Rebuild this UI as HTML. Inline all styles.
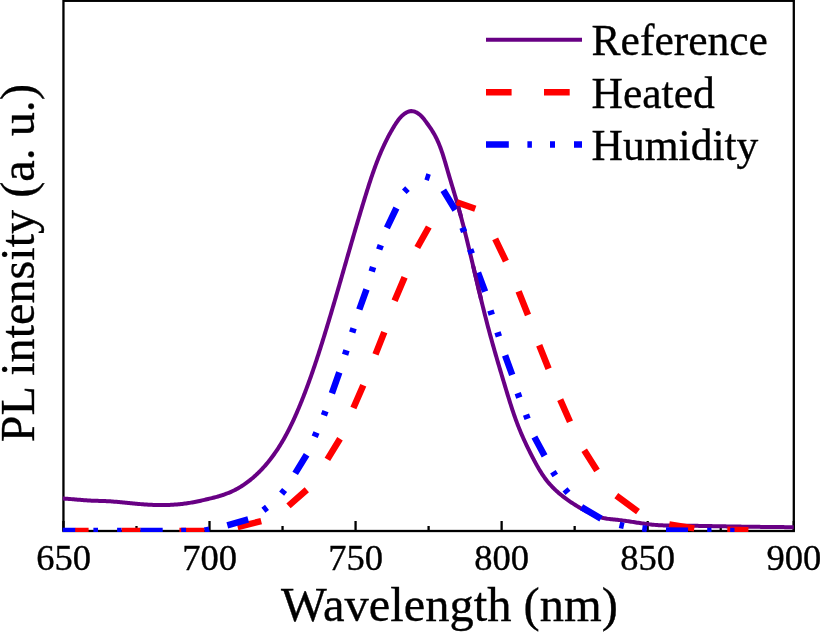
<!DOCTYPE html>
<html><head><meta charset="utf-8"><style>
html,body{margin:0;padding:0;background:#fff;width:820px;height:632px;overflow:hidden}
svg{display:block;will-change:transform}
text{font-family:"Liberation Serif",serif;fill:#000;stroke:#000;stroke-width:0.35px}
.tl{font-size:36.5px}
.lg{font-size:43.5px}
</style></head><body>
<svg width="820" height="632" viewBox="0 0 820 632">
<defs><clipPath id="c"><rect x="62.7" y="0" width="732.2" height="531.9"/></clipPath></defs>
<rect x="63.45" y="0.8" width="730.35" height="530.2" fill="none" stroke="#000" stroke-width="2.3"/>
<g stroke="#000" stroke-width="2.3"><line x1="63.45" y1="531" x2="63.45" y2="521" /><line x1="136.48" y1="531" x2="136.48" y2="526" /><line x1="209.51" y1="531" x2="209.51" y2="521" /><line x1="282.54" y1="531" x2="282.54" y2="526" /><line x1="355.57" y1="531" x2="355.57" y2="521" /><line x1="428.60" y1="531" x2="428.60" y2="526" /><line x1="501.63" y1="531" x2="501.63" y2="521" /><line x1="574.66" y1="531" x2="574.66" y2="526" /><line x1="647.69" y1="531" x2="647.69" y2="521" /><line x1="720.72" y1="531" x2="720.72" y2="526" /><line x1="793.75" y1="531" x2="793.75" y2="521" /></g>
<g clip-path="url(#c)" fill="none" stroke-linejoin="round">
<path d="M62.50,498.50 63.76,498.58 65.02,498.66 66.28,498.75 67.54,498.84 68.80,498.93 70.06,499.03 71.32,499.13 72.57,499.24 73.83,499.34 75.09,499.44 76.35,499.55 77.61,499.65 78.87,499.75 80.13,499.86 81.39,499.96 82.65,500.05 83.91,500.15 85.17,500.24 86.43,500.33 87.69,500.41 88.96,500.49 90.22,500.56 91.48,500.63 92.74,500.69 94.00,500.74 95.26,500.79 96.52,500.83 97.78,500.86 99.04,500.89 100.30,500.93 101.56,500.96 102.82,501.00 104.09,501.04 105.35,501.08 106.61,501.14 107.87,501.20 109.12,501.28 110.38,501.36 111.64,501.44 112.90,501.54 114.16,501.64 115.42,501.74 116.68,501.85 117.93,501.97 119.19,502.08 120.45,502.21 121.71,502.33 122.96,502.45 124.22,502.58 125.48,502.71 126.74,502.84 127.99,502.96 129.25,503.09 130.51,503.21 131.77,503.34 133.03,503.46 134.28,503.58 135.54,503.69 136.80,503.80 138.06,503.91 139.32,504.02 140.58,504.12 141.84,504.22 143.10,504.32 144.36,504.41 145.62,504.50 146.88,504.58 148.14,504.65 149.40,504.72 150.66,504.79 151.92,504.85 153.18,504.90 154.44,504.95 155.70,504.98 156.96,505.02 158.22,505.04 159.49,505.06 160.75,505.07 162.01,505.07 163.28,505.06 164.54,505.04 165.80,505.02 167.07,504.99 168.33,504.95 169.59,504.89 170.86,504.83 172.12,504.77 173.38,504.69 174.64,504.60 175.90,504.51 177.16,504.40 178.42,504.29 179.68,504.17 180.94,504.03 182.19,503.89 183.45,503.74 184.70,503.58 185.95,503.41 187.21,503.23 188.45,503.05 189.70,502.85 190.95,502.64 192.19,502.42 193.43,502.20 194.67,501.96 195.91,501.72 197.15,501.47 198.38,501.21 199.62,500.95 200.85,500.68 202.08,500.41 203.31,500.13 204.54,499.85 205.77,499.56 207.00,499.27 208.23,498.98 209.46,498.68 210.68,498.38 211.91,498.08 213.13,497.78 214.36,497.46 215.58,497.14 216.80,496.82 218.01,496.48 219.22,496.12 220.43,495.76 221.64,495.38 222.84,494.99 224.03,494.58 225.22,494.16 226.41,493.72 227.59,493.26 228.76,492.79 229.92,492.31 231.08,491.80 232.23,491.28 233.37,490.74 234.50,490.19 235.63,489.61 236.74,489.02 237.85,488.41 238.94,487.78 240.03,487.14 241.11,486.48 242.18,485.80 243.24,485.11 244.29,484.40 245.33,483.68 246.36,482.94 247.38,482.19 248.39,481.42 249.40,480.65 250.39,479.86 251.37,479.05 252.35,478.24 253.31,477.41 254.27,476.58 255.21,475.73 256.15,474.87 257.07,474.00 257.99,473.12 258.89,472.24 259.79,471.34 260.68,470.44 261.55,469.52 262.42,468.60 263.27,467.68 264.12,466.74 264.96,465.80 265.79,464.85 266.60,463.90 267.41,462.93 268.21,461.97 269.00,460.99 269.78,460.01 270.56,459.02 271.32,458.02 272.08,457.02 272.82,456.01 273.56,455.00 274.29,453.98 275.02,452.95 275.73,451.92 276.44,450.88 277.14,449.84 277.83,448.79 278.51,447.74 279.19,446.68 279.86,445.62 280.52,444.55 281.17,443.48 281.82,442.40 282.46,441.32 283.10,440.23 283.72,439.14 284.35,438.04 284.96,436.94 285.57,435.84 286.17,434.73 286.77,433.62 287.36,432.51 287.94,431.39 288.52,430.27 289.10,429.14 289.66,428.01 290.23,426.88 290.78,425.74 291.34,424.61 291.88,423.46 292.43,422.32 292.96,421.17 293.50,420.03 294.02,418.87 294.55,417.72 295.07,416.57 295.58,415.41 296.10,414.25 296.60,413.09 297.11,411.92 297.61,410.76 298.10,409.59 298.60,408.42 299.09,407.25 299.57,406.08 300.05,404.91 300.53,403.74 301.01,402.57 301.49,401.39 301.96,400.22 302.43,399.04 302.89,397.86 303.36,396.69 303.82,395.51 304.27,394.33 304.73,393.15 305.18,391.97 305.63,390.79 306.08,389.61 306.52,388.42 306.97,387.24 307.41,386.06 307.85,384.87 308.28,383.68 308.71,382.50 309.15,381.31 309.57,380.12 310.00,378.93 310.43,377.75 310.85,376.56 311.27,375.37 311.69,374.18 312.10,372.98 312.52,371.79 312.93,370.60 313.34,369.41 313.75,368.21 314.16,367.02 314.56,365.82 314.97,364.63 315.37,363.43 315.77,362.23 316.17,361.04 316.56,359.84 316.96,358.64 317.35,357.44 317.75,356.24 318.14,355.05 318.53,353.85 318.91,352.65 319.30,351.44 319.69,350.24 320.07,349.04 320.45,347.84 320.84,346.64 321.22,345.44 321.60,344.23 321.98,343.03 322.35,341.83 322.73,340.62 323.11,339.42 323.48,338.21 323.86,337.01 324.23,335.80 324.60,334.60 324.97,333.39 325.34,332.19 325.71,330.98 326.08,329.77 326.45,328.57 326.82,327.36 327.19,326.15 327.55,324.94 327.92,323.74 328.28,322.53 328.65,321.32 329.01,320.11 329.37,318.90 329.74,317.69 330.10,316.48 330.46,315.27 330.82,314.07 331.18,312.86 331.54,311.65 331.90,310.43 332.25,309.22 332.61,308.01 332.97,306.80 333.33,305.59 333.68,304.38 334.04,303.17 334.39,301.96 334.75,300.75 335.10,299.53 335.46,298.32 335.81,297.11 336.16,295.90 336.52,294.69 336.87,293.47 337.22,292.26 337.57,291.05 337.92,289.84 338.28,288.62 338.63,287.41 338.98,286.20 339.33,284.98 339.68,283.77 340.03,282.56 340.38,281.34 340.73,280.13 341.08,278.92 341.43,277.70 341.78,276.49 342.13,275.27 342.48,274.06 342.82,272.85 343.17,271.63 343.52,270.42 343.87,269.21 344.22,267.99 344.57,266.78 344.92,265.56 345.27,264.35 345.62,263.13 345.96,261.92 346.31,260.71 346.66,259.49 347.01,258.28 347.36,257.06 347.71,255.85 348.06,254.64 348.41,253.42 348.76,252.21 349.11,250.99 349.46,249.78 349.81,248.57 350.16,247.35 350.51,246.14 350.86,244.92 351.21,243.71 351.56,242.50 351.92,241.28 352.27,240.07 352.62,238.86 352.97,237.64 353.33,236.43 353.68,235.22 354.03,234.00 354.39,232.79 354.74,231.58 355.10,230.37 355.45,229.15 355.81,227.94 356.17,226.73 356.52,225.52 356.88,224.31 357.24,223.09 357.60,221.88 357.96,220.67 358.32,219.46 358.68,218.25 359.04,217.04 359.40,215.83 359.76,214.61 360.12,213.40 360.49,212.19 360.85,210.98 361.22,209.77 361.58,208.56 361.95,207.35 362.31,206.15 362.68,204.94 363.05,203.73 363.42,202.52 363.79,201.31 364.16,200.10 364.53,198.89 364.90,197.69 365.27,196.48 365.65,195.27 366.02,194.06 366.40,192.86 366.78,191.65 367.15,190.45 367.53,189.24 367.92,188.04 368.30,186.83 368.68,185.63 369.07,184.43 369.46,183.23 369.85,182.02 370.24,180.82 370.64,179.63 371.04,178.43 371.44,177.23 371.85,176.04 372.25,174.84 372.66,173.65 373.08,172.46 373.50,171.27 373.92,170.08 374.34,168.89 374.77,167.71 375.20,166.52 375.64,165.34 376.08,164.16 376.53,162.98 376.98,161.81 377.43,160.63 377.89,159.46 378.36,158.29 378.83,157.12 379.30,155.95 379.78,154.79 380.27,153.63 380.76,152.47 381.25,151.31 381.76,150.16 382.27,149.01 382.78,147.86 383.30,146.71 383.83,145.57 384.36,144.43 384.90,143.29 385.45,142.16 386.00,141.03 386.57,139.90 387.13,138.77 387.71,137.65 388.29,136.53 388.88,135.42 389.48,134.30 390.09,133.20 390.70,132.09 391.33,130.99 391.96,129.89 392.60,128.80 393.24,127.71 393.90,126.62 394.57,125.54 395.24,124.46 395.93,123.39 396.63,122.33 397.36,121.28 398.10,120.26 398.88,119.26 399.68,118.28 400.52,117.33 401.40,116.42 402.32,115.55 403.28,114.71 404.30,113.92 405.36,113.19 406.47,112.52 407.61,111.96 408.79,111.52 410.00,111.23 411.23,111.11 412.47,111.17 413.71,111.40 414.92,111.77 416.10,112.27 417.22,112.86 418.28,113.53 419.29,114.27 420.25,115.09 421.17,115.96 422.05,116.88 422.89,117.84 423.71,118.83 424.51,119.84 425.29,120.88 426.05,121.91 426.81,122.95 427.57,123.99 428.31,125.02 429.05,126.06 429.77,127.10 430.48,128.14 431.18,129.19 431.87,130.25 432.54,131.30 433.19,132.37 433.83,133.45 434.45,134.53 435.05,135.63 435.63,136.73 436.19,137.85 436.74,138.97 437.28,140.10 437.79,141.24 438.30,142.38 438.79,143.54 439.27,144.70 439.73,145.87 440.18,147.04 440.63,148.22 441.06,149.40 441.48,150.59 441.89,151.79 442.29,152.98 442.69,154.19 443.08,155.39 443.46,156.60 443.84,157.81 444.21,159.03 444.57,160.25 444.94,161.46 445.30,162.68 445.65,163.90 446.01,165.13 446.36,166.35 446.71,167.57 447.06,168.79 447.41,170.01 447.77,171.23 448.12,172.45 448.48,173.66 448.84,174.88 449.20,176.09 449.56,177.31 449.92,178.52 450.28,179.73 450.64,180.94 451.01,182.15 451.37,183.36 451.73,184.57 452.10,185.78 452.46,186.98 452.82,188.19 453.18,189.40 453.55,190.61 453.91,191.81 454.27,193.02 454.63,194.23 454.98,195.44 455.34,196.64 455.69,197.85 456.05,199.06 456.40,200.27 456.75,201.48 457.10,202.69 457.44,203.90 457.79,205.12 458.13,206.33 458.47,207.54 458.81,208.76 459.14,209.97 459.48,211.19 459.81,212.41 460.14,213.62 460.47,214.84 460.80,216.06 461.12,217.28 461.45,218.50 461.77,219.72 462.09,220.94 462.41,222.16 462.73,223.38 463.05,224.60 463.36,225.83 463.68,227.05 463.99,228.27 464.30,229.50 464.61,230.72 464.92,231.95 465.23,233.17 465.53,234.40 465.84,235.62 466.14,236.85 466.45,238.08 466.75,239.30 467.05,240.53 467.35,241.76 467.65,242.99 467.95,244.21 468.25,245.44 468.55,246.67 468.84,247.90 469.14,249.13 469.44,250.36 469.73,251.58 470.02,252.81 470.32,254.04 470.61,255.27 470.90,256.50 471.20,257.73 471.49,258.96 471.78,260.19 472.07,261.42 472.36,262.65 472.65,263.88 472.94,265.11 473.23,266.34 473.52,267.56 473.81,268.79 474.10,270.02 474.39,271.25 474.68,272.48 474.97,273.71 475.26,274.94 475.55,276.17 475.84,277.40 476.13,278.63 476.42,279.85 476.71,281.08 477.00,282.31 477.30,283.54 477.59,284.77 477.88,286.00 478.17,287.22 478.46,288.45 478.75,289.68 479.05,290.91 479.34,292.13 479.64,293.36 479.93,294.59 480.23,295.81 480.52,297.04 480.82,298.27 481.12,299.49 481.41,300.72 481.71,301.94 482.01,303.17 482.31,304.40 482.61,305.62 482.91,306.85 483.22,308.07 483.52,309.29 483.83,310.52 484.13,311.74 484.44,312.96 484.75,314.19 485.05,315.41 485.36,316.63 485.68,317.85 485.99,319.08 486.30,320.30 486.62,321.52 486.93,322.74 487.25,323.96 487.57,325.18 487.89,326.40 488.21,327.62 488.53,328.84 488.86,330.06 489.18,331.28 489.51,332.49 489.84,333.71 490.17,334.93 490.50,336.14 490.84,337.36 491.17,338.58 491.51,339.79 491.84,341.01 492.18,342.22 492.52,343.44 492.86,344.65 493.20,345.87 493.54,347.08 493.89,348.30 494.23,349.51 494.58,350.72 494.93,351.94 495.28,353.15 495.62,354.36 495.97,355.58 496.33,356.79 496.68,358.00 497.03,359.21 497.38,360.43 497.74,361.64 498.09,362.85 498.45,364.06 498.81,365.27 499.16,366.48 499.52,367.70 499.88,368.91 500.24,370.12 500.60,371.33 500.96,372.54 501.32,373.75 501.68,374.96 502.04,376.17 502.41,377.39 502.77,378.60 503.13,379.81 503.50,381.02 503.86,382.23 504.22,383.44 504.59,384.65 504.95,385.87 505.32,387.08 505.68,388.29 506.05,389.50 506.42,390.71 506.78,391.92 507.15,393.13 507.52,394.35 507.89,395.56 508.26,396.77 508.63,397.98 509.01,399.19 509.38,400.39 509.76,401.60 510.14,402.81 510.52,404.01 510.91,405.22 511.29,406.42 511.68,407.62 512.08,408.82 512.47,410.02 512.87,411.22 513.27,412.42 513.68,413.61 514.09,414.81 514.51,416.00 514.92,417.19 515.35,418.37 515.77,419.56 516.21,420.74 516.64,421.92 517.09,423.10 517.53,424.27 517.98,425.45 518.44,426.62 518.91,427.79 519.38,428.95 519.85,430.11 520.33,431.27 520.81,432.43 521.31,433.59 521.80,434.74 522.30,435.89 522.81,437.04 523.32,438.19 523.83,439.33 524.35,440.48 524.88,441.62 525.41,442.76 525.94,443.90 526.48,445.04 527.02,446.18 527.57,447.31 528.12,448.45 528.67,449.58 529.23,450.72 529.79,451.85 530.36,452.98 530.93,454.11 531.51,455.24 532.08,456.37 532.66,457.50 533.25,458.63 533.84,459.76 534.43,460.89 535.03,462.01 535.63,463.13 536.24,464.25 536.86,465.37 537.49,466.47 538.12,467.58 538.76,468.68 539.41,469.77 540.07,470.86 540.74,471.93 541.42,473.00 542.11,474.07 542.81,475.12 543.52,476.16 544.24,477.20 544.98,478.22 545.73,479.23 546.49,480.23 547.27,481.22 548.07,482.19 548.87,483.15 549.70,484.10 550.53,485.03 551.39,485.96 552.25,486.86 553.13,487.76 554.02,488.64 554.92,489.52 555.84,490.38 556.77,491.23 557.71,492.06 558.66,492.89 559.62,493.71 560.58,494.51 561.56,495.31 562.55,496.09 563.55,496.87 564.55,497.63 565.56,498.39 566.58,499.14 567.61,499.87 568.64,500.60 569.68,501.33 570.72,502.04 571.77,502.74 572.83,503.44 573.89,504.13 574.96,504.81 576.03,505.48 577.11,506.14 578.19,506.79 579.28,507.43 580.37,508.07 581.47,508.69 582.58,509.31 583.69,509.92 584.80,510.52 585.92,511.11 587.05,511.69 588.17,512.26 589.31,512.82 590.45,513.36 591.59,513.90 592.74,514.41 593.90,514.91 595.07,515.39 596.24,515.84 597.42,516.27 598.61,516.68 599.80,517.05 601.01,517.40 602.22,517.72 603.45,518.00 604.68,518.25 605.92,518.48 607.17,518.69 608.42,518.87 609.68,519.04 610.94,519.19 612.21,519.33 613.47,519.47 614.74,519.60 616.01,519.72 617.27,519.85 618.54,519.99 619.80,520.13 621.05,520.28 622.31,520.44 623.56,520.61 624.81,520.78 626.06,520.95 627.31,521.13 628.55,521.32 629.80,521.50 631.04,521.69 632.29,521.88 633.54,522.07 634.78,522.27 636.03,522.46 637.28,522.65 638.53,522.84 639.78,523.03 641.03,523.21 642.28,523.39 643.53,523.57 644.78,523.74 646.04,523.91 647.29,524.07 648.55,524.22 649.80,524.37 651.06,524.51 652.31,524.64 653.57,524.77 654.82,524.88 656.08,524.99 657.34,525.08 658.60,525.16 659.86,525.24 661.12,525.30 662.38,525.36 663.64,525.41 664.90,525.45 666.16,525.49 667.42,525.52 668.68,525.54 669.94,525.56 671.20,525.58 672.46,525.59 673.73,525.61 674.99,525.62 676.25,525.63 677.51,525.63 678.78,525.64 680.04,525.65 681.30,525.66 682.56,525.67 683.83,525.69 685.09,525.70 686.35,525.71 687.62,525.73 688.88,525.75 690.14,525.76 691.40,525.78 692.67,525.80 693.93,525.82 695.19,525.83 696.46,525.85 697.72,525.87 698.98,525.89 700.25,525.92 701.51,525.94 702.77,525.96 704.03,525.98 705.30,526.00 706.56,526.03 707.82,526.05 709.09,526.07 710.35,526.10 711.61,526.12 712.88,526.14 714.14,526.17 715.40,526.19 716.66,526.21 717.93,526.24 719.19,526.26 720.45,526.28 721.72,526.30 722.98,526.33 724.24,526.35 725.51,526.37 726.77,526.39 728.03,526.41 729.29,526.43 730.56,526.45 731.82,526.47 733.08,526.50 734.35,526.52 735.61,526.53 736.87,526.55 738.13,526.57 739.40,526.59 740.66,526.61 741.92,526.63 743.18,526.65 744.45,526.67 745.71,526.68 746.97,526.70 748.24,526.72 749.50,526.74 750.76,526.75 752.02,526.77 753.29,526.79 754.55,526.80 755.81,526.82 757.07,526.84 758.34,526.85 759.60,526.87 760.86,526.88 762.13,526.90 763.39,526.91 764.65,526.93 765.91,526.94 767.18,526.96 768.44,526.97 769.70,526.98 770.97,527.00 772.23,527.01 773.49,527.02 774.75,527.04 776.02,527.05 777.28,527.06 778.54,527.08 779.81,527.09 781.07,527.10 782.33,527.11 783.59,527.12 784.86,527.14 786.12,527.15 787.38,527.16 788.65,527.17 789.91,527.18 791.17,527.19 792.44,527.20 793.70,527.21" stroke="#680084" stroke-width="4" stroke-linecap="butt"/>
<path d="M75.0,531.0L88.6,531.0 M121.6,531.0L140.6,531.0 M179.4,531.0L204.6,531.0 M237.6,527.0L261.2,521.2 M288.5,505.9L306.8,489.8 M327.4,459.4L340.0,438.8 M353.4,408.0L363.3,385.2 M375.5,354.4L384.3,332.1 M394.6,300.8L404.6,277.3 M417.3,247.5L428.8,227.0 M456.7,202.2L475.3,208.8 M495.2,238.8L505.9,261.2 M518.6,291.4L528.0,315.0 M539.2,345.3L548.6,368.8 M560.2,399.6L570.0,421.8 M584.2,450.2L597.0,470.6 M616.3,495.6L638.0,511.7 M669.3,524.5L694.3,528.4 M727.3,529.7L748.4,530.2" stroke="#ff0000" stroke-width="6.5" stroke-linecap="butt"/>
<path d="M52.9,531.0L75.2,531.0 M93.4,531.0L98.0,531.0 M117.1,531.0L121.5,531.0 M140.4,531.0L162.7,531.0 M181.2,531.0L186.1,531.0 M204.6,530.6L209.3,529.6 M227.3,525.3L248.2,519.4 M263.4,510.2L267.0,507.4 M281.6,493.6L284.6,490.0 M295.2,473.4L306.6,454.8 M314.7,436.7L316.5,432.5 M323.9,415.3L325.5,411.1 M331.9,393.3L339.3,372.4 M345.1,354.7L346.5,350.3 M352.2,332.6L353.6,328.2 M359.3,309.5L366.5,289.3 M371.7,271.4L373.1,267.0 M379.2,249.5L380.8,245.1 M386.9,227.8L396.4,208.0 M404.3,191.8L407.5,188.6 M425.4,176.4L429.8,177.8 M443.3,190.2L455.3,210.0 M462.5,227.7L464.1,231.9 M470.2,249.3L471.8,253.7 M478.0,272.7L485.1,291.7 M490.4,310.4L491.8,314.8 M497.5,332.2L498.9,336.6 M505.1,355.3L512.2,374.8 M517.7,393.2L519.3,397.6 M526.0,414.7L527.6,418.9 M534.4,437.0L544.6,455.9 M552.9,471.8L555.3,475.6 M565.0,489.3L568.0,492.9 M581.5,507.1L601.0,518.6 M619.5,524.9L623.9,525.9 M642.3,528.3L646.9,528.9 M666.0,530.6L688.0,530.8 M707.2,531.0L711.5,531.0 M730.2,531.0L734.5,531.0" stroke="#0000ff" stroke-width="6.5" stroke-linecap="butt"/>
<path d="M458.13,206.33 458.47,207.54 458.81,208.76 459.14,209.97 459.48,211.19 459.81,212.41 460.14,213.62 460.47,214.84 460.80,216.06 461.12,217.28 M472.94,265.11 473.23,266.34 473.52,267.56 473.81,268.79 474.10,270.02 474.39,271.25 474.68,272.48 474.97,273.71 475.26,274.94 475.55,276.17 475.84,277.40 476.13,278.63 476.42,279.85 476.71,281.08 477.00,282.31 477.30,283.54 477.59,284.77 477.88,286.00 478.17,287.22 478.46,288.45 478.75,289.68 479.05,290.91 479.34,292.13 479.64,293.36 479.93,294.59 480.23,295.81 480.52,297.04 480.82,298.27 481.12,299.49" stroke="#680084" stroke-width="4" stroke-linecap="butt"/>
</g>
<text x="63.5" y="570" text-anchor="middle" class="tl">650</text><text x="209.5" y="570" text-anchor="middle" class="tl">700</text><text x="355.6" y="570" text-anchor="middle" class="tl">750</text><text x="501.6" y="570" text-anchor="middle" class="tl">800</text><text x="647.7" y="570" text-anchor="middle" class="tl">850</text><text x="793.8" y="570" text-anchor="middle" class="tl">900</text>
<text x="281" y="621.3" font-size="48.5px">Wavelength (nm)</text>
<text transform="translate(34.3,442.3) rotate(-90)" font-size="48.2px">PL intensity (a. u.)</text>
<line x1="486" y1="39.8" x2="582" y2="39.8" stroke="#680084" stroke-width="4"/>
<path d="M486,92.35H511.6M544,92.35H569.7" stroke="#ff0000" stroke-width="6.5"/>
<path d="M486,144.5H508.8M527.4,144.5H531.9M550,144.5H555M574,144.5H582" stroke="#0000ff" stroke-width="6.5"/>
<text x="591.6" y="55.2" class="lg">Reference</text>
<text x="591.6" y="107.5" class="lg">Heated</text>
<text x="591.6" y="160" class="lg">Humidity</text>
</svg>
</body></html>
